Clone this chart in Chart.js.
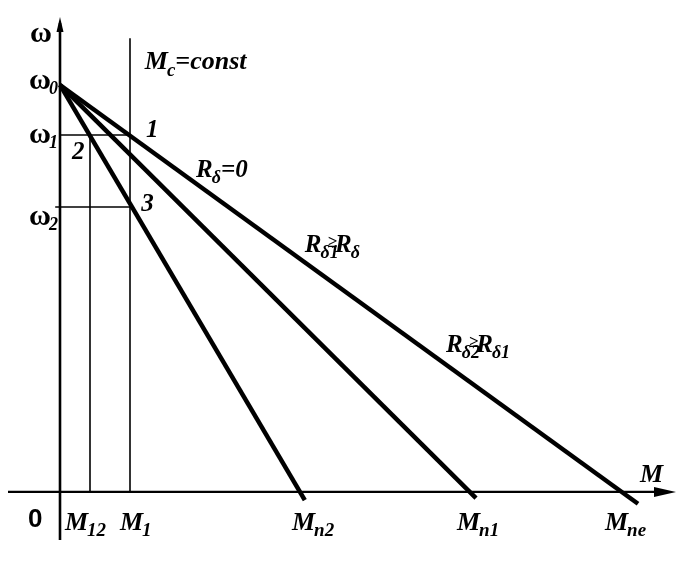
<!doctype html>
<html lang="ru">
<head>
  <meta charset="utf-8">
  <title>Механические характеристики</title>
  <script src="https://cdn.jsdelivr.net/npm/chart.js"></script>
  <style>
    html, body { margin: 0; padding: 0; background: #fff; }
  </style>
</head>
<body>
  <canvas id="chart" width="681" height="584"></canvas>

  <script>
    // speeds (omega) and torque ticks
    const omega0 = 100;
    const omega1 = 87.7;
    const omega2 = 70;
    const mTickNames  = ['M12', 'M1', 'Mn2', 'Mn1', 'Mne'];
    const mTickValues = [7.5, 17.5, 60, 102.5, 140.75];

    // characteristics: all start at omega0 on the axis
    const lineNames      = ['Rd=0', 'Rd1>Rd', 'Rd2>Rd1'];
    const lineEndM       = [144.5, 104, 61.2];
    const lineEndOmega   = [-2.9, -1.5, -2];

    // guide lines
    const m1Top = 111.5;      // top of the Mc=const vertical
    const omega2Left = -1.2;  // omega2 line starts a bit left of the axis

    const M12 = mTickValues[0], M1 = mTickValues[1];

    const datasets = [];
    lineNames.forEach((name, i) => {
      datasets.push({
        label: name,
        data: [{ x: 0, y: omega0 }, { x: lineEndM[i], y: lineEndOmega[i] }],
        showLine: true, borderColor: '#000', borderWidth: 4.5,
        pointRadius: 0, borderCapStyle: 'butt'
      });
    });
    const thin = (label, pts) => ({
      label, data: pts, showLine: true, borderColor: '#000',
      borderWidth: 1.6, pointRadius: 0
    });
    datasets.push(thin('Mc=const', [{ x: M1, y: 0 }, { x: M1, y: m1Top }]));
    datasets.push(thin('M12', [{ x: M12, y: 0 }, { x: M12, y: omega1 }]));
    datasets.push(thin('omega1', [{ x: 0, y: omega1 }, { x: M1, y: omega1 }]));
    datasets.push(thin('omega2', [{ x: omega2Left, y: omega2 }, { x: M1, y: omega2 }]));

    const SERIF = '"Liberation Serif", "Times New Roman", serif';

    // draw text made of pieces: [text, size, dy, dx, style]
    function drawRich(ctx, x, y, parts) {
      let cx = x;
      parts.forEach(p => {
        const [t, size, dy = 0, dx = 0, style = 'italic bold'] = p;
        ctx.font = style + ' ' + size + 'px ' + SERIF;
        cx += dx;
        ctx.fillText(t, cx, y + dy);
        cx += ctx.measureText(t).width;
      });
    }

    const axesPlugin = {
      id: 'axes',
      beforeDatasetsDraw(chart) {
        const { ctx, chartArea: a, scales: { x, y } } = chart;
        const x0 = x.getPixelForValue(0);
        const y0 = y.getPixelForValue(0);
        ctx.save();
        ctx.strokeStyle = '#000';
        ctx.fillStyle = '#000';
        // y axis
        ctx.lineWidth = 2.6;
        ctx.beginPath();
        ctx.moveTo(x0, a.bottom);
        ctx.lineTo(x0, a.top + 6);
        ctx.stroke();
        ctx.beginPath();
        ctx.moveTo(x0, a.top);
        ctx.lineTo(x0 - 3.5, a.top + 15);
        ctx.lineTo(x0 + 3.5, a.top + 15);
        ctx.closePath();
        ctx.fill();
        // x axis
        ctx.lineWidth = 2.2;
        ctx.beginPath();
        ctx.moveTo(a.left, y0);
        ctx.lineTo(a.right - 10, y0);
        ctx.stroke();
        ctx.beginPath();
        ctx.moveTo(a.right, y0);
        ctx.lineTo(a.right - 22, y0 - 5);
        ctx.lineTo(a.right - 22, y0 + 5);
        ctx.closePath();
        ctx.fill();
        ctx.restore();
      }
    };

    const textPlugin = {
      id: 'labels',
      afterDatasetsDraw(chart) {
        const { ctx, scales: { x, y } } = chart;
        const px = v => x.getPixelForValue(v);
        const py = v => y.getPixelForValue(v);
        ctx.save();
        ctx.fillStyle = '#000';
        ctx.textBaseline = 'alphabetic';

        // omega labels left of the axis
        const om = ['ω', 30, 0, 0, 'bold'];
        drawRich(ctx, 30, py(110.5), [om]);
        drawRich(ctx, 29, py(99), [om, ['0', 18, 5, -2]]);
        drawRich(ctx, 29, py(85.7), [om, ['1', 18, 5, -2]]);
        drawRich(ctx, 29, py(65.6), [om, ['2', 18, 5, -2]]);

        // point numbers
        drawRich(ctx, px(21.5), py(87.3), [['1', 25]]);
        drawRich(ctx, px(3), py(81.8), [['2', 25]]);
        drawRich(ctx, px(20.3), py(69), [['3', 25]]);

        drawRich(ctx, px(21.2), py(104), [['M', 26], ['c', 19, 7, -1], ['=const', 26]]);

        drawRich(ctx, px(34), py(77.5), [['R', 25], ['δ', 18, 6, -1], ['=0', 25]]);
        drawRich(ctx, px(61.2), py(59), [['R', 25], ['δ1', 18, 6, -1], ['≥', 17, -5, -11], ['R', 25, 0, -2], ['δ', 18, 6, -1]]);
        drawRich(ctx, px(96.5), py(34.4), [['R', 25], ['δ2', 18, 6, -1], ['≥', 17, -5, -11], ['R', 25, 0, -2], ['δ1', 18, 6, -1]]);

        drawRich(ctx, px(145), py(2.5), [['M', 26]]);

        // origin
        ctx.font = 'bold 26px "Liberation Sans", Arial, sans-serif';
        ctx.fillText('0', 28, py(-8.6));

        // torque tick labels
        const shifts = [-25, -10, -8, -13, -18];
        mTickNames.forEach((n, i) => {
          drawRich(ctx, px(mTickValues[i]) + shifts[i], py(-9.3),
            [['M', 26], [n.slice(1), 19, 6, -1]]);
        });
        ctx.restore();
      }
    };

    new Chart(document.getElementById('chart').getContext('2d'), {
      type: 'scatter',
      data: { datasets },
      options: {
        responsive: false,
        animation: false,
        layout: { padding: { left: 8, right: 5, top: 17, bottom: 44 } },
        scales: {
          x: { type: 'linear', min: -13, max: 154, display: false },
          y: { type: 'linear', min: -11.8, max: 116.7, display: false }
        },
        plugins: { legend: { display: false }, tooltip: { enabled: false } }
      },
      plugins: [axesPlugin, textPlugin]
    });
  </script>
</body>
</html>
